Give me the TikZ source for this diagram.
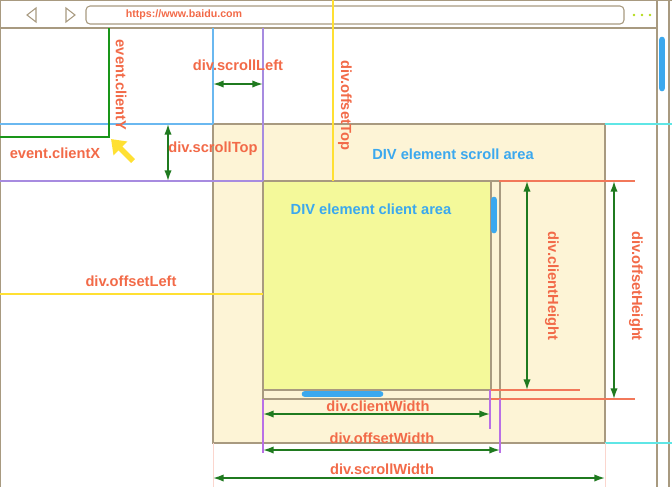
\documentclass[tikz,border=0pt]{standalone}
\usepackage{fontspec}
\setmainfont{Liberation Sans}
\usetikzlibrary{arrows.meta}
\definecolor{lbl}{HTML}{F26A48}
\definecolor{blu}{HTML}{3BA8EE}
\definecolor{grn}{HTML}{1F7A1F}
\definecolor{brd}{HTML}{A89A80}
\definecolor{crm}{HTML}{FDF4D6}
\definecolor{ylw}{HTML}{F4F99A}
\definecolor{pur}{HTML}{A78BE0}
\definecolor{yl}{HTML}{FFE033}
\definecolor{cy}{HTML}{5FE6E6}
\definecolor{lb}{HTML}{6AB8F0}
\definecolor{org}{HTML}{F2785A}
\begin{document}
\begin{tikzpicture}[x=0.75pt,y=-0.75pt,
  lab/.style={text=lbl,font=\fontsize{11}{13}\selectfont\bfseries,inner sep=0pt},
  blab/.style={text=blu,font=\fontsize{11}{13}\selectfont\bfseries,inner sep=0pt},
  dim/.style={grn,line width=1.2pt,{Latex[length=8pt,width=5.5pt]}-{Latex[length=8pt,width=5.5pt]}},
  box/.style={draw=brd,line width=0.8pt}]
\useasboundingbox (0,0) rectangle (672,487);
% browser frame
\draw[brd,line width=1pt] (0.5,0) -- (0.5,487);
\draw[brd,line width=1pt] (0,0.5) -- (672,0.5);
\draw[brd,line width=1pt] (0,28) -- (657,28);
\draw[brd,line width=1pt] (657,0) -- (657,487);
\draw[brd,line width=1pt] (669,0) -- (669,487);
\draw[brd,line width=0.8pt,rounded corners=3pt] (86,6) rectangle (624,24);
\draw[brd,line width=0.8pt] (36,8) -- (27,15) -- (36,22) -- cycle;
\draw[brd,line width=0.8pt] (66,8) -- (75,15) -- (66,22) -- cycle;
\foreach \x in {634,642,650} \fill[yellow!70!green] (\x,15) circle (1pt);
\draw[blu,line width=5pt,line cap=round] (662,40) -- (662,88);
\node[lab,font=\fontsize{8}{10}\selectfont\bfseries] (url) at (184,15) {https://www.baidu.com};
% scroll area
\draw[box,fill=crm] (213,124) rectangle (605,443);
\fill[ylw] (263,181) rectangle (491,390);
\draw[box] (263,181) rectangle (500,399);
\draw[box] (491,181) -- (491,390) -- (263,390);
\draw[blu,line width=5pt,line cap=round] (494,200) -- (494,230);
\draw[blu,line width=5pt,line cap=round] (305,394) -- (380,394);
% guide lines
\draw[lb,line width=0.8pt] (0,124) -- (213,124) (213,28) -- (213,124);
\draw[cy,line width=0.8pt] (605,124) -- (672,124) (605,443) -- (672,443);
\draw[pur,line width=0.8pt] (0,181) -- (263,181) (263,28) -- (263,181);
\draw[grn!80!green,line width=1pt] (109,28) -- (109,137) -- (0,137);
\draw[yl,line width=1pt] (333,0) -- (333,181);
\draw[yl,line width=1pt] (0,294) -- (263,294);
\draw[org,line width=1pt] (499,181) -- (635,181) (491,390) -- (580,390) (491,399) -- (635,399);
\draw[pur!80!magenta,line width=0.8pt] (263,399) -- (263,453) (490,390) -- (490,429) (500,399) -- (500,453);
\draw[org!30,line width=0.6pt] (213,443) -- (213,487) (605,443) -- (605,487);
% arrows
\coordinate (a1) at (213,84); \coordinate (a2) at (263,84);
\draw[dim] (a1) -- (a2);
\coordinate (b1) at (168,124); \coordinate (b2) at (168,181);
\draw[dim] (b1) -- (b2);
\coordinate (c1) at (527,181); \coordinate (c2) at (527,390);
\draw[dim] (c1) -- (c2);
\coordinate (d1) at (614,181); \coordinate (d2) at (614,399);
\draw[dim] (d1) -- (d2);
\coordinate (e1) at (263,414); \coordinate (e2) at (490,414);
\draw[dim] (e1) -- (e2);
\coordinate (f1) at (263,450); \coordinate (f2) at (500,450);
\draw[dim] (f1) -- (f2);
\coordinate (g1) at (213,478); \coordinate (g2) at (605,478);
\draw[dim] (g1) -- (g2);
\coordinate (y1) at (133,161); \coordinate (y2) at (111,139);
\draw[yl,line width=4pt,-{Triangle[length=10pt,width=14pt]}] (y1) -- (y2);
% labels
\node[lab,rotate=-90] (ecy) at (121,85) {event.clientY};
\node[lab] (sl) at (238,65) {div.scrollLeft};
\node[lab,rotate=-90] (ot) at (345,105) {div.offsetTop};
\node[lab] (ecx) at (55,153) {event.clientX};
\node[lab] (st) at (213,149) {div.scrollTop};
\node[blab] (sa) at (453,154) {DIV element scroll area};
\node[blab] (ca) at (371,209) {DIV element client area};
\node[lab] (ol) at (131,281) {div.offsetLeft};
\node[lab,rotate=-90] (ch) at (552,286) {div.clientHeight};
\node[lab,rotate=-90] (oh) at (636,286) {div.offsetHeight};
\node[lab] (cw) at (378,406) {div.clientWidth};
\node[lab] (ow) at (382,438) {div.offsetWidth};
\node[lab] (sw) at (382,469) {div.scrollWidth};
\end{tikzpicture}
\end{document}
